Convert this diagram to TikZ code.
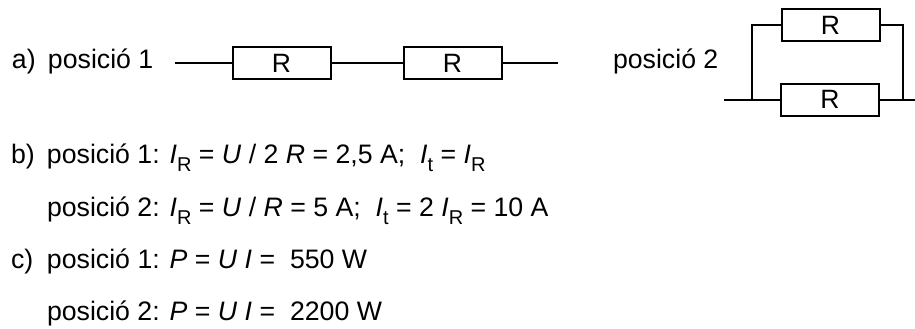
\documentclass[tikz,border=0pt]{standalone}
\usepackage{fontspec}
\setmainfont{Liberation Sans}
\newcommand{\iv}[1]{\textit{#1}}
\newcommand{\sbs}[1]{\raisebox{-0.3em}{\fontsize{20}{22}\selectfont #1}}
\newcommand{\lbl}[1]{\makebox[36pt][l]{#1}}
\tikzset{x=1pt,y=-1pt,
 txt/.style={anchor=base west,inner sep=0pt,outer sep=0pt,font=\fontsize{26.7}{30}\selectfont},
 res/.style={draw=black,line width=2pt,rectangle,inner sep=0pt,minimum width=98pt,minimum height=32pt,font=\fontsize{26.5}{30}\selectfont},
 wire/.style={line width=2pt,draw=black}}
\begin{document}
\begin{tikzpicture}
\useasboundingbox (0,0) rectangle (915,329);
\node[txt] (la) at (12,68) {\lbl{a)}posició 1};
\node[txt] (lp) at (613,68) {posició 2};
\coordinate (s1) at (175,63);
\node[res] (r1) at (281.5,63) {R};
\node[res] (r2) at (452.5,63) {R};
\coordinate (e1) at (558,63);
\draw[wire] (s1) -- (r1) -- (r2) -- (e1);
\node[res] (r3) at (830.5,25.5) {R};
\node[res] (r4) at (830,100) {\raisebox{2pt}{R}};
\coordinate (s2) at (724,99.5);
\coordinate (e2) at (915,99.5);
\coordinate (j1) at (752,99.5);
\coordinate (j2) at (903,99.5);
\draw[wire] (s2) -- (r4.west |- s2);
\draw[wire] (r4.east |- e2) -- (e2);
\draw[wire] (j1) |- (r3);
\draw[wire] (j2) |- (r3);
\node[txt] (b1) at (11,163) {\lbl{b)}posició 1: \iv{I}\sbs{R} = \iv{U} / 2 \iv{R} = 2,5 A;\ \ \iv{I}\sbs{t} = \iv{I}\sbs{R}};
\node[txt] (b2) at (47,216) {posició 2: \iv{I}\sbs{R} = \iv{U} / \iv{R} = 5 A;\ \ \iv{I}\sbs{t} = 2 \iv{I}\sbs{R} = 10 A};
\node[txt] (c1) at (11,268) {\lbl{c)}posició 1: \iv{P} = \iv{U} \iv{I} =\ \ 550 W};
\node[txt] (c2) at (47,320) {posició 2: \iv{P} = \iv{U} \iv{I} =\ \ 2200 W};
\end{tikzpicture}
\end{document}
